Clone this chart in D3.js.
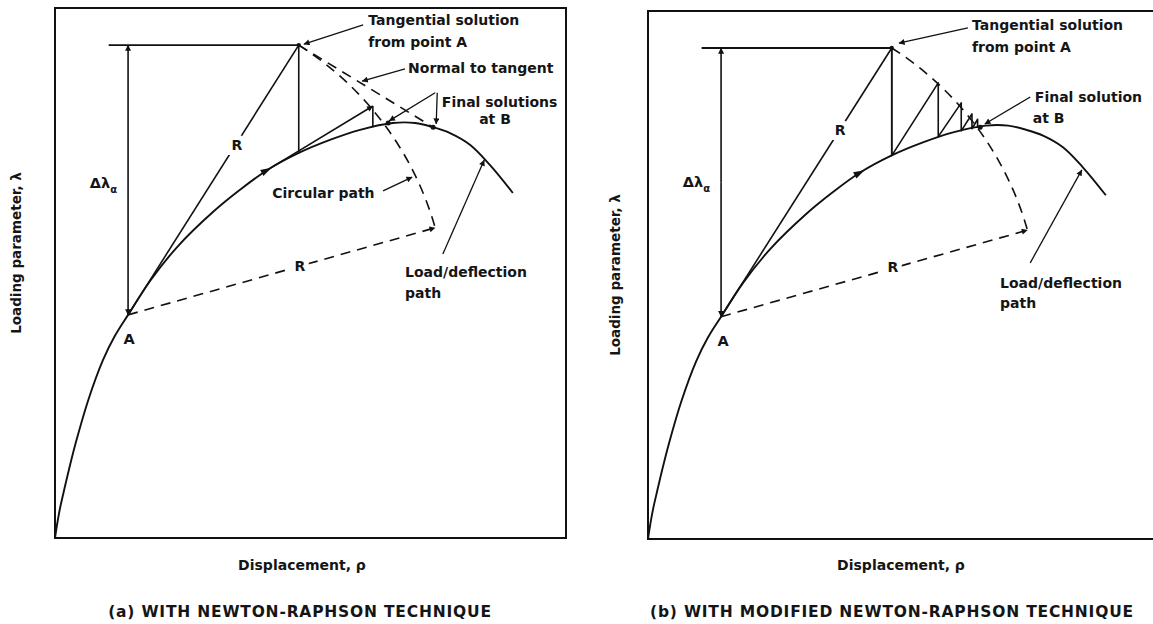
<!DOCTYPE html>
<html>
<head>
<meta charset="utf-8">
<script src="https://cdn.jsdelivr.net/npm/d3@7"></script>
<style>
  body { margin: 0; background: #fff; }
  svg text { font-family: "DejaVu Sans", "Liberation Sans", Arial, sans-serif; fill: #151515; }
</style>
</head>
<body>
<svg id="fig" width="1153" height="624"></svg>
<script>
// Load/deflection path: displacement and loading parameter (0–100 units)
const pathDisp = [0, 0.4, 1.0, 1.8, 2.7, 4.1, 6.5, 9.4, 11.7, 14.3, 18.6, 23.9, 30.9, 36.2, 41.5, 47.6, 53.8, 59.7, 66.1, 70.5, 74.0, 77.3, 81.2, 85.1, 89.6];
const pathLoad = [0, 2.5, 5.7, 9.1, 12.8, 18.1, 26.0, 33.6, 38.1, 42.1, 48.5, 54.9, 61.5, 65.7, 69.4, 72.6, 75.1, 77.0, 78.3, 78.3, 77.5, 76.4, 74.2, 70.4, 65.1];

// Key points: A (converged start), T (tangential predictor), foot of T on the path
const pointA = [14.3, 42.1];
const pointT = [47.7, 93.0];
const footT = [47.7, 72.6];
const deltaLineStart = 10.5;           // displacement where the Δλ reference line starts
const radiusDir = [75.0, 58.7];        // direction of the second radius R drawn from A

// (a) Newton-Raphson: normal-plane end, tangent correction, final solutions
const normalEnd = [74.0, 77.5];
const nrStepDisp = [41.5, 62.2, 62.2];
const nrStepLoad = [69.4, 81.5, 77.5];
const finalA = [[65.2, 78.3], [74.0, 77.5]];

// (b) modified Newton-Raphson iterates (constant stiffness)
const mnrDisp = [47.7, 47.7, 56.8, 56.8, 61.3, 61.3, 63.4, 63.4, 64.5, 64.5];
const mnrLoad = [93.0, 72.6, 86.4, 76.2, 82.6, 77.3, 80.5, 77.7, 79.5, 77.9];
const finalB = [[65.0, 78.0]];

// Text
const yTitle = "Loading parameter, λ";
const xTitle = "Displacement, ρ";
const captions = ["(a) WITH NEWTON-RAPHSON TECHNIQUE", "(b) WITH MODIFIED NEWTON-RAPHSON TECHNIQUE"];

const svg = d3.select("#fig");
const defs = svg.append("defs");
defs.append("marker")
  .attr("id", "ah").attr("viewBox", "0 0 10 10")
  .attr("refX", 9.5).attr("refY", 5)
  .attr("markerWidth", 9).attr("markerHeight", 6)
  .attr("markerUnits", "userSpaceOnUse").attr("orient", "auto")
  .append("path").attr("d", "M0,0L10,5L0,10z").attr("fill", "#111");

const pathPts = pathDisp.map((d, i) => [d, pathLoad[i]]);

function drawPanel(frame, cfg) {
  const x = d3.scaleLinear().domain([0, 100]).range([frame.x0, frame.x1]);
  const y = d3.scaleLinear().domain([0, 100]).range([frame.y1, frame.y0]);
  const g = svg.append("g");
  const P = d => [x(d[0]), y(d[1])];
  const seg = (a, b, dashed, arrow, w) => {
    const l = g.append("line")
      .attr("x1", x(a[0])).attr("y1", y(a[1]))
      .attr("x2", x(b[0])).attr("y2", y(b[1]))
      .attr("stroke", "#111").attr("stroke-width", w || 1.6);
    if (dashed) l.attr("stroke-dasharray", "10,7");
    if (arrow) l.attr("marker-end", "url(#ah)");
    return l;
  };
  const label = (t, d, anchor, size, halo) => {
    const el = g.append("text")
      .attr("x", x(d[0])).attr("y", y(d[1]))
      .attr("text-anchor", anchor || "start")
      .attr("font-size", size || 14).attr("font-weight", "bold").text(t);
    if (halo) el.attr("stroke", "#fff").attr("stroke-width", halo).attr("paint-order", "stroke");
    return el;
  };

  // frame
  g.append("rect")
    .attr("x", frame.x0).attr("y", frame.y0)
    .attr("width", frame.x1 - frame.x0).attr("height", frame.y1 - frame.y0)
    .attr("fill", "none").attr("stroke", "#111").attr("stroke-width", 2);

  // load/deflection path
  const line = d3.line().x(d => x(d[0])).y(d => y(d[1])).curve(d3.curveCatmullRom.alpha(0.5));
  g.append("path").datum(pathPts).attr("d", line)
    .attr("fill", "none").attr("stroke", "#111").attr("stroke-width", 1.9);

  // arrowhead travelling along the path
  const ia = 14, pa = P(pathPts[ia]), pb = P(pathPts[ia + 1]);
  const ang = Math.atan2(pb[1] - pa[1], pb[0] - pa[0]) * 180 / Math.PI;
  g.append("path").attr("d", "M-6,-3.5L5,0L-6,3.5z").attr("fill", "#111")
    .attr("transform", `translate(${pa[0]},${pa[1]}) rotate(${ang})`);

  // Δλ reference line and dimension arrow
  seg([deltaLineStart, pointT[1]], pointT, false, false, 1.9);
  seg([pointA[0], (pointA[1] + pointT[1]) / 2], [pointA[0], pointT[1]], false, true);
  seg([pointA[0], (pointA[1] + pointT[1]) / 2], pointA, false, true);

  // tangential predictor of length R from A
  seg(pointA, pointT, false, false, 1.6);
  seg(pointT, footT, false, false, 1.6);

  // circular path of radius R centred on A
  const [ax, ay] = P(pointA), [tx, ty] = P(pointT), [ex, ey] = P(radiusDir);
  const r = Math.hypot(tx - ax, ty - ay);
  const a0 = Math.atan2(ty - ay, tx - ax), a1 = Math.atan2(ey - ay, ex - ax);
  const arc = d3.path(); arc.moveTo(tx, ty); arc.arc(ax, ay, r, a0, a1, false);
  g.append("path").attr("d", arc.toString()).attr("fill", "none")
    .attr("stroke", "#111").attr("stroke-width", 1.6).attr("stroke-dasharray", "10,7");
  g.append("line")
    .attr("x1", ax).attr("y1", ay)
    .attr("x2", ax + r * Math.cos(a1)).attr("y2", ay + r * Math.sin(a1))
    .attr("stroke", "#111").attr("stroke-width", 1.6).attr("stroke-dasharray", "10,7")
    .attr("marker-end", "url(#ah)");

  g.append("circle").attr("cx", tx).attr("cy", ty).attr("r", 2.2).attr("fill", "#111");

  cfg.extra(g, x, y, seg, label);

  // radius labels, Δλ, A
  cfg.rLabels.forEach(d => label("R", d, "middle", 14, 10).attr("dy", "0.36em"));
  const dl = label("Δλ", cfg.dLabel, "start", 14.5);
  dl.append("tspan").attr("font-size", 10).attr("dy", 5).text("α");
  label("A", cfg.aLabel, "middle", 14.5);

  // annotation texts and leaders
  cfg.texts.forEach(t => label(t[0], t[1], t[2] || "start", 14));
  cfg.leaders.forEach(l => seg(l[0], l[1], false, true, 1.3));

  // axis titles and caption
  svg.append("text")
    .attr("transform", `translate(${cfg.yTitleX},${cfg.yTitleY}) rotate(-90)`)
    .attr("text-anchor", "middle").attr("dy", "0.35em")
    .attr("font-size", 13.5).attr("font-weight", "bold").text(yTitle);
  svg.append("text").attr("x", cfg.xTitleX).attr("y", 570)
    .attr("text-anchor", "middle").attr("font-size", 14).attr("font-weight", "bold").text(xTitle);
  svg.append("text").attr("x", cfg.capX).attr("y", 617)
    .attr("text-anchor", "middle").attr("font-size", 15.5).attr("font-weight", "bold")
    .attr("letter-spacing", 0.8).text(cfg.caption);
}

// (a) Newton-Raphson
drawPanel({ x0: 55, x1: 566, y0: 8, y1: 538 }, {
  caption: captions[0], capX: 300, xTitleX: 302, yTitleX: 16, yTitleY: 253,
  rLabels: [[35.6, 74.2], [47.9, 51.3]],
  dLabel: [6.8, 66.0], aLabel: [14.5, 36.6],
  texts: [
    ["Tangential solution", [61.3, 96.8]],
    ["from point A", [61.3, 92.6]],
    ["Normal to tangent", [69.1, 87.7]],
    ["Final solutions", [75.7, 81.3]],
    ["at B", [86.1, 78.2], "middle"],
    ["Circular path", [42.5, 64.2]],
    ["Load/deflection", [68.5, 49.2]],
    ["path", [68.5, 45.3]]
  ],
  leaders: [
    [[60.3, 96.8], [48.7, 93.2]],
    [[68.5, 88.5], [60.1, 86.2]],
    [[74.4, 84.0], [65.4, 78.7]],
    [[74.8, 84.0], [74.6, 78.1]],
    [[64.2, 65.5], [69.9, 68.1]],
    [[75.9, 53.6], [84.0, 71.3]]
  ],
  extra: (g, x, y, seg) => {
    seg(pointT, normalEnd, true, false, 1.6);
    const pts = nrStepDisp.map((d, i) => [d, nrStepLoad[i]]);
    seg(pts[0], pts[1], false, true, 1.6);
    seg(pts[1], pts[2], false, false, 1.6);
    finalA.forEach(d => g.append("circle").attr("cx", x(d[0])).attr("cy", y(d[1])).attr("r", 2.5).attr("fill", "#111"));
  }
});

// (b) modified Newton-Raphson
drawPanel({ x0: 648, x1: 1159, y0: 11, y1: 539 }, {
  caption: captions[1], capX: 892, xTitleX: 901, yTitleX: 615, yTitleY: 275,
  rLabels: [[37.6, 77.5], [47.9, 51.5]],
  dLabel: [6.8, 66.7], aLabel: [14.7, 36.6],
  texts: [
    ["Tangential solution", [63.4, 96.4]],
    ["from point A", [63.4, 92.2]],
    ["Final solution", [75.7, 82.8]],
    ["at B", [75.3, 78.7]],
    ["Load/deflection", [68.9, 47.5]],
    ["path", [68.9, 43.8]]
  ],
  leaders: [
    [[62.6, 96.8], [49.1, 93.9]],
    [[74.8, 83.7], [65.9, 78.6]],
    [[74.8, 52.3], [84.9, 69.9]]
  ],
  extra: (g, x, y) => {
    const pts = mnrDisp.map((d, i) => [d, mnrLoad[i]]);
    g.append("path").datum(pts)
      .attr("d", d3.line().x(d => x(d[0])).y(d => y(d[1])))
      .attr("fill", "none").attr("stroke", "#111").attr("stroke-width", 1.6)
      .attr("stroke-linejoin", "round");
    finalB.forEach(d => g.append("circle").attr("cx", x(d[0])).attr("cy", y(d[1])).attr("r", 2.5).attr("fill", "#111"));
  }
});
</script>
</body>
</html>
